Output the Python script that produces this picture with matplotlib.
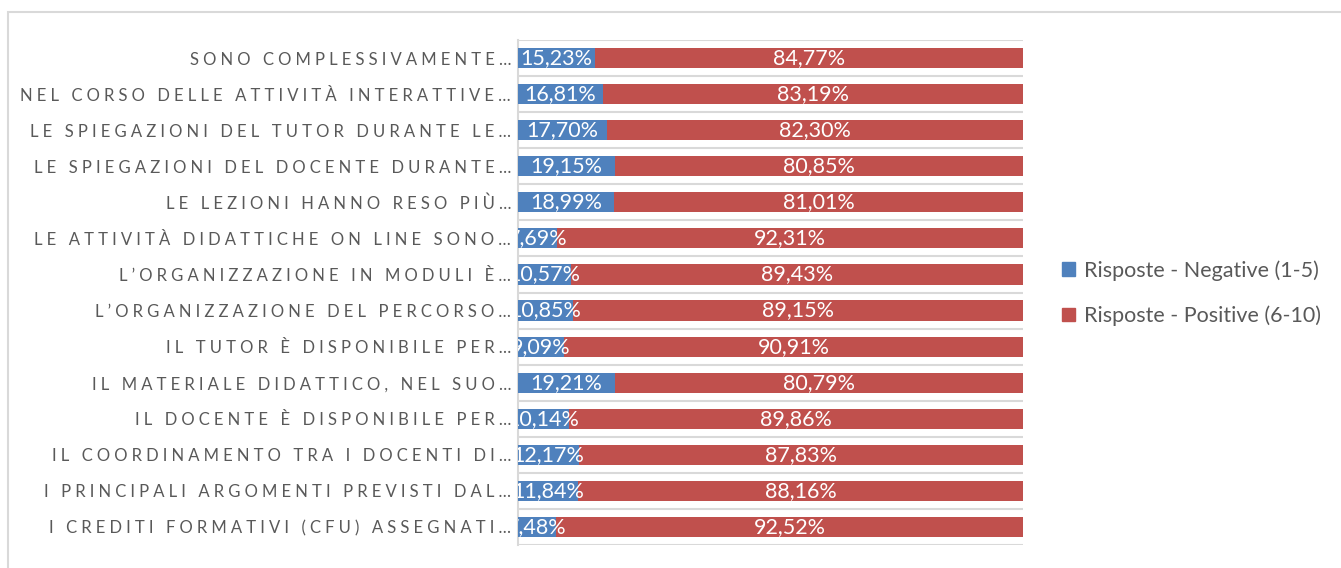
import matplotlib.pyplot as plt
from matplotlib.patches import Rectangle, Patch
import numpy as np

# categories, top to bottom
categories = [
    "SONO COMPLESSIVAMENTE…",
    "NEL CORSO DELLE ATTIVITÀ INTERATTIVE…",
    "LE SPIEGAZIONI DEL TUTOR DURANTE LE…",
    "LE SPIEGAZIONI DEL DOCENTE DURANTE…",
    "LE LEZIONI HANNO RESO PIÙ…",
    "LE ATTIVITÀ DIDATTICHE ON LINE SONO…",
    "L’ORGANIZZAZIONE IN MODULI È…",
    "L’ORGANIZZAZIONE DEL PERCORSO…",
    "IL TUTOR È DISPONIBILE PER…",
    "IL MATERIALE DIDATTICO, NEL SUO…",
    "IL DOCENTE È DISPONIBILE PER…",
    "IL COORDINAMENTO TRA I DOCENTI DI…",
    "I PRINCIPALI ARGOMENTI PREVISTI DAL…",
    "I CREDITI FORMATIVI (CFU) ASSEGNATI…",
]
negative = [15.23, 16.81, 17.70, 19.15, 18.99, 7.69, 10.57, 10.85, 9.09, 19.21, 10.14, 12.17, 11.84, 7.48]
positive = [84.77, 83.19, 82.30, 80.85, 81.01, 92.31, 89.43, 89.15, 90.91, 80.79, 89.86, 87.83, 88.16, 92.52]
series_names = ["Risposte - Negative (1-5)", "Risposte - Positive (6-10)"]

BLUE = "#4f81bd"
RED = "#c0504d"
GREY_TXT = "#595959"
GRID = "#d9d9d9"

plt.rcParams['font.family'] = ['Lato', 'DejaVu Sans']


def spaced(s):
    # mimic the wide character spacing of the axis labels
    return "\u2009\u200a\u200a".join(s)


fig = plt.figure(figsize=(13.41, 5.68), dpi=100)
ax = fig.add_axes([518 / 1341, 1 - 545 / 568, 505 / 1341, 505 / 568])

n = len(categories)
y = np.arange(n)
neg = np.array(negative) / 100
pos = np.array(positive) / 100

ax.barh(y, neg, height=0.56, color=BLUE, zorder=3)
ax.barh(y, pos, left=neg, height=0.56, color=RED, zorder=3)

for i in range(n):
    ax.text(neg[i] / 2, y[i], f"{negative[i]:.2f}%".replace(".", ","),
            ha="center", va="center", color="white", fontsize=15.5,
            clip_on=True, zorder=4)
    ax.text(neg[i] + pos[i] / 2, y[i], f"{positive[i]:.2f}%".replace(".", ","),
            ha="center", va="center", color="white", fontsize=15.5,
            clip_on=True, zorder=4)

# separator lines between categories
for b in np.arange(-0.5, n, 1.0):
    ax.axhline(b, color=GRID, lw=1.5, zorder=1)

ax.set_xlim(0, 1)
ax.set_ylim(n - 0.5, -0.5)
ax.set_xticks([])
ax.set_yticks(y)
ax.set_yticklabels([spaced(c) for c in categories], fontsize=12, color=GREY_TXT)
ax.tick_params(axis="y", length=0, pad=5)
for s in ["top", "right", "bottom"]:
    ax.spines[s].set_visible(False)
ax.spines["left"].set_color(GRID)
ax.spines["left"].set_linewidth(1.5)

handles = [Patch(color=BLUE), Patch(color=RED)]
fig.legend(handles, series_names, loc="center left",
           bbox_to_anchor=(1043 / 1341, 1 - 293 / 568), frameon=False,
           fontsize=15.5, labelcolor=GREY_TXT, handlelength=0.6, handleheight=0.6,
           handletextpad=0.4, labelspacing=1.15)

# outer chart frame
fig.add_artist(Rectangle((8 / 1341, -0.1), 2, 1.1 - 12 / 568, transform=fig.transFigure,
                         fill=False, edgecolor=GRID, lw=1.5))

fig.savefig("out.png", dpi=100)
